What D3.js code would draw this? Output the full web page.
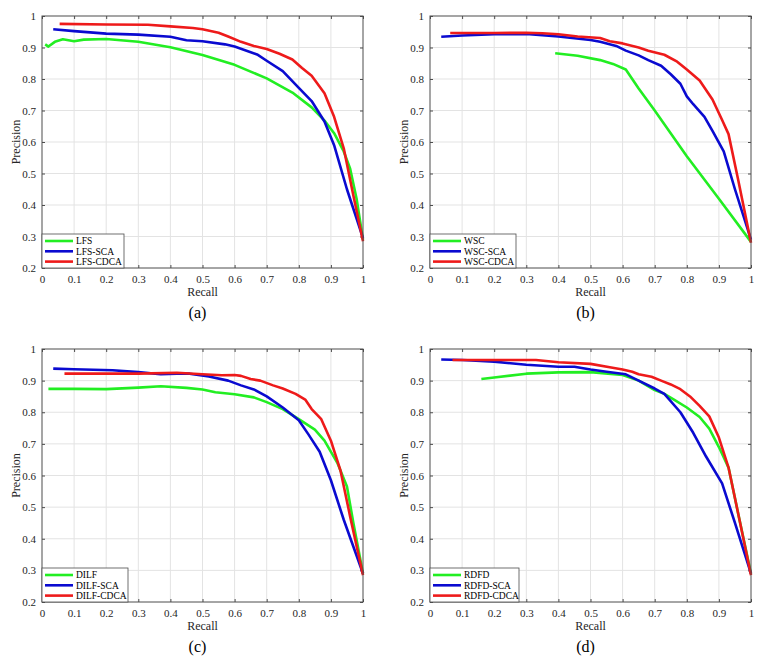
<!DOCTYPE html>
<html>
<head>
<meta charset="utf-8">
<script src="https://cdn.jsdelivr.net/npm/d3@7"></script>
<style>
  body { margin: 0; background: #fff; }
  svg text { font-family: "Liberation Serif", "Times New Roman", serif; fill: #262626; }
  .axis-title { font-size: 12px; }
  .caption { font-size: 16px; fill: #000; }
  .legend-text { font-size: 9.5px; fill: #000; }
  .grid line { stroke: #e3e3e3; stroke-width: 1; }
  .frame { fill: none; stroke: #4d4d4d; stroke-width: 1; }
  .curve { fill: none; stroke-width: 2.6; stroke-linejoin: round; stroke-linecap: butt; }
</style>
</head>
<body>
<div id="chart"></div>
<script>
// Tick values shared by all four panels
const xTicks = [0, 0.1, 0.2, 0.3, 0.4, 0.5, 0.6, 0.7, 0.8, 0.9, 1];
const yTicks = [0.2, 0.3, 0.4, 0.5, 0.6, 0.7, 0.8, 0.9, 1];

// Panel (a): [recall, precision]
const LFS = [[0.01,0.91],[0.02,0.903],[0.04,0.918],[0.065,0.926],[0.1,0.92],[0.13,0.925],[0.2,0.927],[0.3,0.918],[0.4,0.901],[0.5,0.876],[0.6,0.845],[0.7,0.802],[0.78,0.757],[0.84,0.71],[0.88,0.668],[0.91,0.628],[0.94,0.57],[0.96,0.515],[0.98,0.42],[1.0,0.29]];
const LFS_SCA = [[0.035,0.958],[0.1,0.952],[0.2,0.944],[0.3,0.941],[0.4,0.934],[0.45,0.923],[0.5,0.92],[0.57,0.91],[0.6,0.903],[0.67,0.878],[0.7,0.858],[0.75,0.825],[0.8,0.772],[0.84,0.73],[0.88,0.665],[0.91,0.59],[0.95,0.45],[1.0,0.295]];
const LFS_CDCA = [[0.055,0.975],[0.2,0.973],[0.33,0.972],[0.4,0.967],[0.47,0.962],[0.5,0.958],[0.55,0.947],[0.58,0.935],[0.62,0.918],[0.66,0.905],[0.7,0.895],[0.74,0.88],[0.78,0.862],[0.81,0.835],[0.84,0.81],[0.88,0.755],[0.91,0.68],[0.94,0.58],[0.97,0.43],[1.0,0.285]];

// Panel (b)
const WSC = [[0.39,0.882],[0.46,0.874],[0.53,0.86],[0.57,0.848],[0.61,0.83],[0.65,0.77],[0.7,0.70],[0.8,0.555],[0.9,0.42],[1.0,0.283]];
const WSC_SCA = [[0.035,0.934],[0.1,0.938],[0.2,0.942],[0.3,0.943],[0.4,0.935],[0.5,0.924],[0.53,0.918],[0.58,0.905],[0.61,0.89],[0.65,0.875],[0.68,0.86],[0.72,0.842],[0.75,0.815],[0.78,0.785],[0.8,0.745],[0.82,0.72],[0.855,0.68],[0.88,0.635],[0.915,0.57],[0.95,0.45],[1.0,0.29]];
const WSC_CDCA = [[0.063,0.946],[0.2,0.946],[0.3,0.947],[0.35,0.945],[0.4,0.942],[0.46,0.935],[0.53,0.93],[0.56,0.92],[0.6,0.913],[0.65,0.9],[0.68,0.89],[0.73,0.877],[0.77,0.855],[0.8,0.83],[0.84,0.795],[0.88,0.735],[0.91,0.67],[0.93,0.625],[0.96,0.48],[1.0,0.28]];

// Panel (c)
const DILF = [[0.02,0.874],[0.1,0.874],[0.2,0.873],[0.3,0.878],[0.37,0.882],[0.45,0.877],[0.5,0.872],[0.54,0.863],[0.6,0.857],[0.66,0.847],[0.7,0.832],[0.75,0.81],[0.8,0.778],[0.85,0.745],[0.88,0.71],[0.92,0.64],[0.95,0.565],[0.97,0.45],[1.0,0.29]];
const DILF_SCA = [[0.035,0.938],[0.1,0.936],[0.22,0.933],[0.3,0.927],[0.37,0.92],[0.42,0.922],[0.46,0.922],[0.52,0.913],[0.58,0.9],[0.62,0.885],[0.66,0.872],[0.7,0.85],[0.75,0.815],[0.8,0.775],[0.83,0.73],[0.865,0.675],[0.9,0.585],[0.94,0.46],[1.0,0.29]];
const DILF_CDCA = [[0.07,0.922],[0.2,0.922],[0.3,0.922],[0.42,0.925],[0.5,0.92],[0.56,0.917],[0.6,0.918],[0.62,0.915],[0.65,0.905],[0.68,0.9],[0.72,0.885],[0.75,0.875],[0.79,0.858],[0.82,0.84],[0.84,0.81],[0.87,0.778],[0.9,0.71],[0.93,0.615],[0.96,0.47],[1.0,0.285]];

// Panel (d)
const RDFD = [[0.16,0.905],[0.2,0.91],[0.3,0.922],[0.4,0.926],[0.5,0.927],[0.6,0.918],[0.65,0.9],[0.7,0.87],[0.73,0.858],[0.76,0.84],[0.8,0.815],[0.84,0.785],[0.87,0.748],[0.9,0.69],[0.93,0.625],[0.96,0.48],[1.0,0.29]];
const RDFD_SCA = [[0.035,0.967],[0.1,0.965],[0.2,0.96],[0.3,0.95],[0.4,0.944],[0.45,0.944],[0.5,0.935],[0.55,0.928],[0.61,0.92],[0.65,0.9],[0.7,0.875],[0.73,0.858],[0.78,0.8],[0.82,0.735],[0.86,0.66],[0.91,0.575],[0.95,0.45],[1.0,0.29]];
const RDFD_CDCA = [[0.07,0.965],[0.2,0.965],[0.33,0.965],[0.4,0.958],[0.5,0.953],[0.56,0.942],[0.6,0.935],[0.63,0.928],[0.65,0.92],[0.69,0.912],[0.72,0.9],[0.75,0.888],[0.78,0.873],[0.81,0.85],[0.84,0.82],[0.87,0.787],[0.9,0.72],[0.93,0.625],[0.96,0.48],[1.0,0.285]];

const colors = ["#22ee22", "#0a0ad0", "#ee1a1a"];

// Each panel: caption, legend names, series arrays and where its axes box sits
const panels = [
  { caption: "(a)", names: ["LFS", "LFS-SCA", "LFS-CDCA"], series: [LFS, LFS_SCA, LFS_CDCA], box: { l: 42, r: 363, t: 16, b: 268 }, legendW: 82 },
  { caption: "(b)", names: ["WSC", "WSC-SCA", "WSC-CDCA"], series: [WSC, WSC_SCA, WSC_CDCA], box: { l: 430, r: 751, t: 16, b: 268 }, legendW: 86 },
  { caption: "(c)", names: ["DILF", "DILF-SCA", "DILF-CDCA"], series: [DILF, DILF_SCA, DILF_CDCA], box: { l: 42, r: 363, t: 349, b: 602 }, legendW: 86 },
  { caption: "(d)", names: ["RDFD", "RDFD-SCA", "RDFD-CDCA"], series: [RDFD, RDFD_SCA, RDFD_CDCA], box: { l: 430, r: 751, t: 349, b: 602 }, legendW: 89 }
];

const svg = d3.select("#chart").append("svg")
  .attr("width", 767)
  .attr("height", 665);

const fmt = d => d3.format("~g")(d);

panels.forEach(p => {
  const { l, r, t, b } = p.box;
  const x = d3.scaleLinear().domain([0, 1]).range([l, r]);
  const y = d3.scaleLinear().domain([0.2, 1]).range([b, t]);
  const g = svg.append("g");

  // light grid
  g.append("g").attr("class", "grid")
    .selectAll("line").data(xTicks.slice(1, -1)).join("line")
    .attr("x1", d => x(d)).attr("x2", d => x(d)).attr("y1", t).attr("y2", b);
  g.append("g").attr("class", "grid")
    .selectAll("line").data(yTicks.slice(1, -1)).join("line")
    .attr("x1", l).attr("x2", r).attr("y1", d => y(d)).attr("y2", d => y(d));

  // axes with inward ticks, MATLAB style
  const xAxis = g.append("g").attr("transform", `translate(0,${b})`)
    .call(d3.axisBottom(x).tickValues(xTicks).tickFormat(fmt).tickSize(-3).tickPadding(7));
  const yAxis = g.append("g").attr("transform", `translate(${l},0)`)
    .call(d3.axisLeft(y).tickValues(yTicks).tickFormat(fmt).tickSize(-3).tickPadding(6));
  const xTop = g.append("g").attr("transform", `translate(0,${t})`)
    .call(d3.axisTop(x).tickValues(xTicks).tickFormat("").tickSize(-3));
  const yRight = g.append("g").attr("transform", `translate(${r},0)`)
    .call(d3.axisRight(y).tickValues(yTicks).tickFormat("").tickSize(-3));
  [xAxis, yAxis, xTop, yRight].forEach(a => {
    a.attr("font-family", null).attr("font-size", null);
    a.select(".domain").remove();
    a.selectAll(".tick line").attr("stroke", "#4d4d4d");
    a.selectAll("text").attr("fill", "#262626")
      .style("font-family", "'Liberation Serif', serif").style("font-size", "11px");
  });

  // curves
  const line = d3.line().x(d => x(d[0])).y(d => y(d[1]));
  g.selectAll("path.curve").data(p.series).join("path")
    .attr("class", "curve")
    .attr("d", line)
    .attr("stroke", (d, i) => colors[i]);

  g.append("rect").attr("class", "frame")
    .attr("x", l).attr("y", t).attr("width", r - l).attr("height", b - t);

  // legend in lower-left corner
  const lg = g.append("g").attr("transform", `translate(${l},${b - 34})`);
  lg.append("rect").attr("width", p.legendW).attr("height", 34)
    .attr("fill", "#fff").attr("stroke", "#4d4d4d").attr("stroke-width", 0.8);
  p.names.forEach((name, i) => {
    const yy = 7 + i * 10.3;
    lg.append("line").attr("x1", 3).attr("x2", 31).attr("y1", yy).attr("y2", yy)
      .attr("stroke", colors[i]).attr("stroke-width", 2.6);
    lg.append("text").attr("class", "legend-text").attr("x", 34).attr("y", yy)
      .attr("dy", "0.35em").text(name);
  });

  // axis titles and caption
  g.append("text").attr("class", "axis-title")
    .attr("x", (l + r) / 2).attr("y", b + 28)
    .attr("text-anchor", "middle").text("Recall");
  g.append("text").attr("class", "axis-title")
    .attr("transform", `translate(${l - 22},${(t + b) / 2}) rotate(-90)`)
    .attr("text-anchor", "middle").text("Precision");
  g.append("text").attr("class", "caption")
    .attr("x", (l + r) / 2 - 5).attr("y", b + 50)
    .attr("text-anchor", "middle").text(p.caption);
});
</script>
</body>
</html>
